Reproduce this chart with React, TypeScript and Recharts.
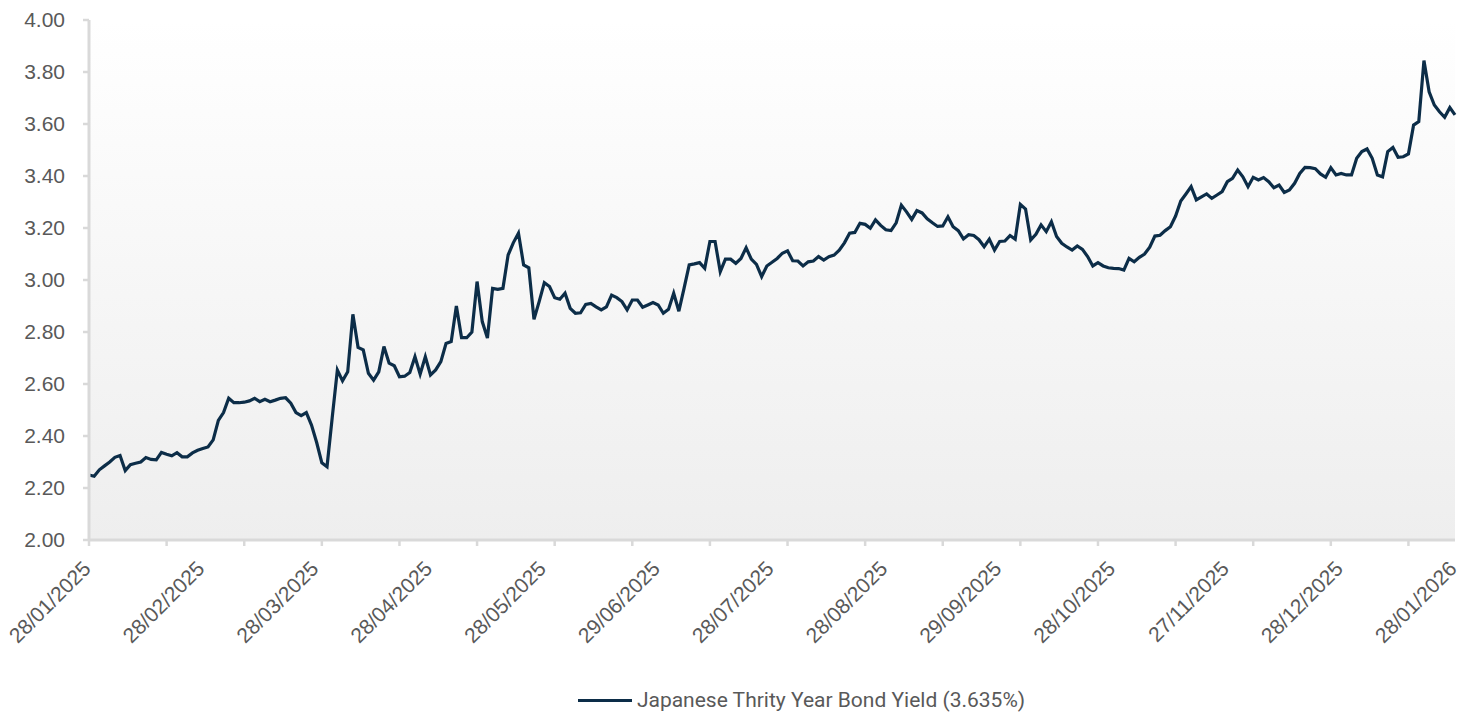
import { LineChart, Line, XAxis, YAxis, CartesianGrid, Legend } from "recharts";

// 30Y JGB yield, one value per observation (265 points)
const yields: number[] = [
  2.25, 2.245, 2.27, 2.285, 2.3, 2.318, 2.325, 2.267, 2.29, 2.295,
  2.3, 2.317, 2.31, 2.308, 2.337, 2.33, 2.324, 2.336, 2.32, 2.32,
  2.335, 2.345, 2.352, 2.358, 2.385, 2.46, 2.49, 2.545, 2.528, 2.528,
  2.53, 2.535, 2.545, 2.532, 2.541, 2.532, 2.538, 2.545, 2.547, 2.526,
  2.49, 2.478, 2.49, 2.442, 2.375, 2.297, 2.282, 2.47, 2.654, 2.612,
  2.647, 2.868, 2.741, 2.731, 2.641, 2.615, 2.647, 2.744, 2.68, 2.67,
  2.628, 2.63, 2.644, 2.705, 2.638, 2.705, 2.635, 2.654, 2.686, 2.756,
  2.763, 2.9, 2.778, 2.778, 2.8, 2.994, 2.84, 2.777, 2.968, 2.964,
  2.968, 3.096, 3.143, 3.18, 3.058, 3.047, 2.849, 2.917, 2.99, 2.975,
  2.932, 2.926, 2.949, 2.891, 2.872, 2.874, 2.906, 2.91, 2.897, 2.885,
  2.897, 2.942, 2.932, 2.917, 2.885, 2.923, 2.923, 2.895, 2.904, 2.913,
  2.904, 2.872, 2.887, 2.949, 2.88, 2.968, 3.058, 3.062, 3.067, 3.045,
  3.148, 3.148, 3.032, 3.08, 3.08, 3.064, 3.083, 3.124, 3.08, 3.06,
  3.013, 3.054, 3.068, 3.083, 3.103, 3.112, 3.074, 3.073, 3.054, 3.07,
  3.073, 3.09, 3.077, 3.09, 3.096, 3.115, 3.143, 3.18, 3.183, 3.218,
  3.214, 3.199, 3.231, 3.21, 3.193, 3.19, 3.22, 3.288, 3.262, 3.233,
  3.267, 3.258, 3.235, 3.22, 3.206, 3.208, 3.243, 3.205, 3.19, 3.158,
  3.174, 3.171, 3.155, 3.128, 3.157, 3.115, 3.148, 3.15, 3.171, 3.157,
  3.291, 3.273, 3.154, 3.176, 3.212, 3.186, 3.224, 3.167, 3.141, 3.127,
  3.115, 3.131, 3.118, 3.09, 3.054, 3.067, 3.054, 3.047, 3.045, 3.044,
  3.038, 3.083, 3.07, 3.087, 3.1, 3.126, 3.169, 3.172, 3.19, 3.205,
  3.246, 3.304, 3.331, 3.359, 3.308, 3.32, 3.331, 3.314, 3.327, 3.34,
  3.378, 3.391, 3.423, 3.397, 3.359, 3.395, 3.385, 3.394, 3.378, 3.355,
  3.365, 3.337, 3.346, 3.372, 3.41, 3.433, 3.432, 3.428, 3.408, 3.395,
  3.432, 3.404, 3.41, 3.404, 3.404, 3.468, 3.494, 3.504, 3.468, 3.404,
  3.397, 3.494, 3.51, 3.472, 3.474, 3.485, 3.596, 3.609, 3.844, 3.724,
  3.673, 3.647, 3.626, 3.663, 3.635,
];

// date labels shown every 22 observations, tick marks every 15
const dateLabels = [
  "28/01/2025", "28/02/2025", "28/03/2025", "28/04/2025", "28/05/2025",
  "29/06/2025", "28/07/2025", "28/08/2025", "29/09/2025", "28/10/2025",
  "27/11/2025", "28/12/2025", "28/01/2026",
];
const labelStep = 22;
const markStep = 15;

const yTicks = [2.0, 2.2, 2.4, 2.6, 2.8, 3.0, 3.2, 3.4, 3.6, 3.8, 4.0];
const seriesName = "Japanese Thrity Year Bond Yield (3.635%)";

const chartData = yields.map((v, i) => ({ i, v }));
const lastIdx = yields.length - 1;
const xTicks: number[] = [];
for (let t = 0; t <= lastIdx; t++) {
  if (t % markStep === 0 || t % labelStep === 0) xTicks.push(t);
}

const AXIS = "#d9d9d9";
const TEXT = "#595959";
const LINE = "#0c2d48";
const FONT = "'Liberation Sans', Arial, sans-serif";

function DateTick({ x, y, payload }: any) {
  const v = payload.value;
  return (
    <g>
      {v % markStep === 0 && (
        <line x1={x} x2={x} y1={y} y2={y + 6} stroke={AXIS} strokeWidth={2.5} />
      )}
      {v % labelStep === 0 && (
        <text
          transform={`translate(${x + 3},${y + 30}) rotate(-45)`}
          textAnchor="end"
          fill={TEXT}
          fontSize={21}
          fontFamily={FONT}
        >
          {dateLabels[v / labelStep]}
        </text>
      )}
    </g>
  );
}

function LegendBox() {
  return (
    <div
      style={{
        height: 30,
        display: "flex",
        alignItems: "center",
        justifyContent: "center",
        fontFamily: "Roboto, sans-serif",
        fontSize: 21,
        color: TEXT,
        paddingTop: 4,
        paddingLeft: 148,
        boxSizing: "border-box",
      }}
    >
      <span
        style={{ display: "inline-block", width: 54, height: 3, background: LINE, marginRight: 5 }}
      />
      {seriesName}
    </div>
  );
}

export default function App() {
  return (
    <div style={{ position: "absolute", left: 0, top: 0, background: "#fff" }}>
      <LineChart
        width={1475}
        height={713}
        data={chartData}
        margin={{ top: 20, right: 20, bottom: 0, left: 0 }}
      >
        <defs>
          <linearGradient id="plotBg" x1="0" y1="0" x2="0" y2="1">
            <stop offset="0%" stopColor="#ffffff" />
            <stop offset="100%" stopColor="#eeeeee" />
          </linearGradient>
        </defs>
        <CartesianGrid fill="url(#plotBg)" horizontal={false} vertical={false} />
        <XAxis
          dataKey="i"
          type="number"
          domain={[0, lastIdx]}
          ticks={xTicks}
          interval={0}
          height={143}
          stroke={AXIS}
          axisLine={{ stroke: AXIS, strokeWidth: 3 }}
          tickLine={false}
          tickSize={0}
          tickMargin={0}
          tick={<DateTick />}
        />
        <YAxis
          domain={[2, 4]}
          ticks={yTicks}
          width={89}
          stroke={AXIS}
          tickFormatter={(v) => Number(v).toFixed(2)}
          tick={{ fill: TEXT, fontSize: 21, fontFamily: FONT }}
          axisLine={{ stroke: AXIS, strokeWidth: 3 }}
          tickLine={{ stroke: AXIS, strokeWidth: 2.5 }}
          tickSize={6}
          tickMargin={18}
        />
        <Legend verticalAlign="bottom" content={<LegendBox />} />
        <Line
          type="linear"
          dataKey="v"
          name={seriesName}
          stroke={LINE}
          strokeWidth={3.2}
          dot={false}
          isAnimationActive={false}
        />
      </LineChart>
    </div>
  );
}
